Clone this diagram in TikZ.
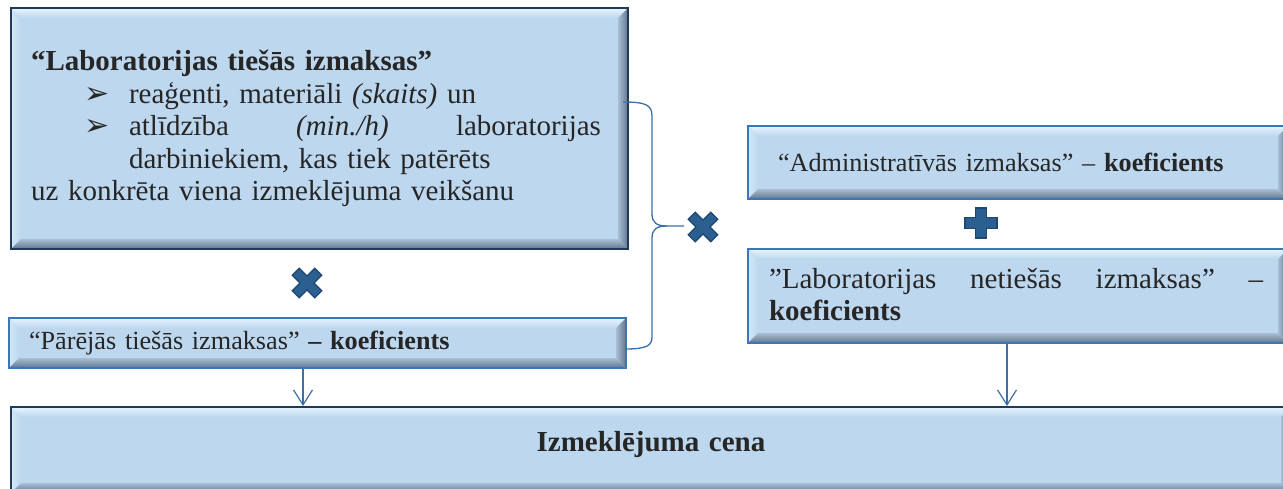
\documentclass[tikz,border=0pt]{standalone}
\usepackage{fontspec}
\setmainfont{Liberation Serif}
\newfontfamily\dingfont{DejaVu Sans}
\usetikzlibrary{
	arrows.meta,
}

\definecolor{boxfill}{HTML}{BDD7EE}
\definecolor{bevtop}{HTML}{E6F4FD}
\definecolor{bevleft}{HTML}{D3E8F8}
\definecolor{bevin}{HTML}{A7BED4}
\definecolor{bevout}{HTML}{5F768E}
\definecolor{navyedge}{HTML}{1F3B5A}
\definecolor{blueedge}{HTML}{3A77B4}
\definecolor{txtgray}{HTML}{262626}
\definecolor{linkblue}{HTML}{3B6FA8}
\definecolor{markfill}{HTML}{2B5F90}
\definecolor{markedge}{HTML}{1D4670}

\newcommand{\bul}{{\dingfont\fontsize{30}{30}\selectfont ➢}}
\newcommand{\bulitem}[1]{\hspace*{53pt}\makebox[45pt][l]{\bul}#1}
\newcommand{\bv}{10pt}

\tikzset{
	bevelbox/.style={
		fill=boxfill, line width=2pt, text=txtgray,
		inner xsep=20pt, inner ysep=0pt, anchor=north west, align=left,
		path picture={
			\coordinate (q1) at (path picture bounding box.north west);
			\coordinate (q2) at (path picture bounding box.north east);
			\coordinate (q3) at (path picture bounding box.south east);
			\coordinate (q4) at (path picture bounding box.south west);
			\coordinate (r1) at ([shift={(\bv,-\bv)}]q1);
			\coordinate (r2) at ([shift={(-\bv,-\bv)}]q2);
			\coordinate (r3) at ([shift={(-\bv,\bv)}]q3);
			\coordinate (r4) at ([shift={(\bv,\bv)}]q4);
			\shade[top color=bevtop, bottom color=boxfill] (q1) -- (q2) -- (r2) -- (r1) -- cycle;
			\shade[left color=bevleft, right color=boxfill] (q1) -- (r1) -- (r4) -- (q4) -- cycle;
			\shade[left color=bevin, right color=bevout] (q2) -- (q3) -- (r3) -- (r2) -- cycle;
			\shade[top color=bevin, bottom color=bevout] (q4) -- (r4) -- (r3) -- (q3) -- cycle;
		},
	},
	bigtext/.style={font=\fontsize{29}{32.5}\selectfont},
	smalltext/.style={font=\fontsize{26.2}{30}\selectfont},
	link/.style={draw=linkblue, line width=1.3pt},
	arr/.style={link, -{Straight Barb[length=15pt, width=19pt, line width=1.2pt]}},
	timesmark/.pic={
		\filldraw[fill=markfill, draw=markedge, line width=1.2pt, rotate=45]
		(5,5) -- (16,5) -- (16,-5) -- (5,-5) -- (5,-16) -- (-5,-16) -- (-5,-5) -- (-16,-5)
		-- (-16,5) -- (-5,5) -- (-5,16) -- (5,16) -- cycle;
	},
	plusmark/.pic={
		\filldraw[fill=markfill, draw=markedge, line width=1.2pt]
		(5.5,5.5) -- (16,5.5) -- (16,-5.5) -- (5.5,-5.5) -- (5.5,-15) -- (-5.5,-15) -- (-5.5,-5.5) -- (-16,-5.5)
		-- (-16,5.5) -- (-5.5,5.5) -- (-5.5,15) -- (5.5,15) -- cycle;
	},
}

\begin{document}
\begin{tikzpicture}[x=1pt, y=-1pt]
\path[use as bounding box, fill=white] (0,0) rectangle (1283,488);

% left column
\node[bevelbox, bigtext, draw=navyedge, minimum width=617pt, minimum height=241pt, text width=577pt] (direct) at (10,7)
	{{\bfseries “Laboratorijas tiešās izmaksas”}\\
	\bulitem{reaģenti, materiāli \textit{(skaits)} un}\\
	\bulitem{\makebox[472pt][l]{atlīdzība\hfill\textit{(min./h)}\hfill laboratorijas}}\\
	\hspace*{98pt}darbiniekiem, kas tiek patērēts\\
	uz konkrēta viena izmeklējuma veikšanu};
\node[bevelbox, smalltext, draw=blueedge, minimum width=617pt, minimum height=50pt, text width=577pt] (other) at (8,317)
	{“Pārējās tiešās izmaksas” \textbf{– koeficients}};
\pic at (307,283) {timesmark};

% right column
\node[bevelbox, smalltext, draw=blueedge, inner xsep=30pt, minimum width=540pt, minimum height=73pt, text width=480pt] (admin) at (747,125)
	{\raisebox{-4pt}{“Administratīvās izmaksas” – \textbf{koeficients}}};
\pic at (981,223) {plusmark};
\node[bevelbox, bigtext, draw=blueedge, inner xsep=21pt, minimum width=540pt, minimum height=94pt, text width=498pt] (indirect) at (747,248)
	{\raisebox{3pt}{\makebox[494pt][l]{”Laboratorijas\hfill netiešās\hfill izmaksas”\hfill –}}\\
	\raisebox{3pt}{\textbf{koeficients}}};

% result
\node[bevelbox, bigtext, draw=navyedge, align=center, minimum width=1280pt, minimum height=86pt, text width=1240pt] (price) at (10,406)
	{\raisebox{17pt}{\bfseries Izmeklējuma cena}};

% brace
\coordinate (bracetop) at (623,102);
\coordinate (bracebot) at (625,349);
\coordinate (bracemid) at (667,226);
\coordinate (bracetip) at (684,226);
\draw[link] (bracetop) .. controls (646,102) and (652,105) .. (652,116) -- (652,214)
	.. controls (652,223) and (657,226) .. (bracemid) -- (bracetip);
\draw[link] (bracebot) .. controls (646,349) and (652,346) .. (652,337) -- (652,238)
	.. controls (652,229) and (657,226) .. (bracemid);
\pic at (703,227) {timesmark};

% arrows
\draw[arr] ([xshift=-14.5pt]other.south) -- ([xshift=-14.5pt]other.south |- price.north);
\draw[arr] ([xshift=-11pt]indirect.south) -- ([xshift=-11pt]indirect.south |- price.north);
\end{tikzpicture}
\end{document}
